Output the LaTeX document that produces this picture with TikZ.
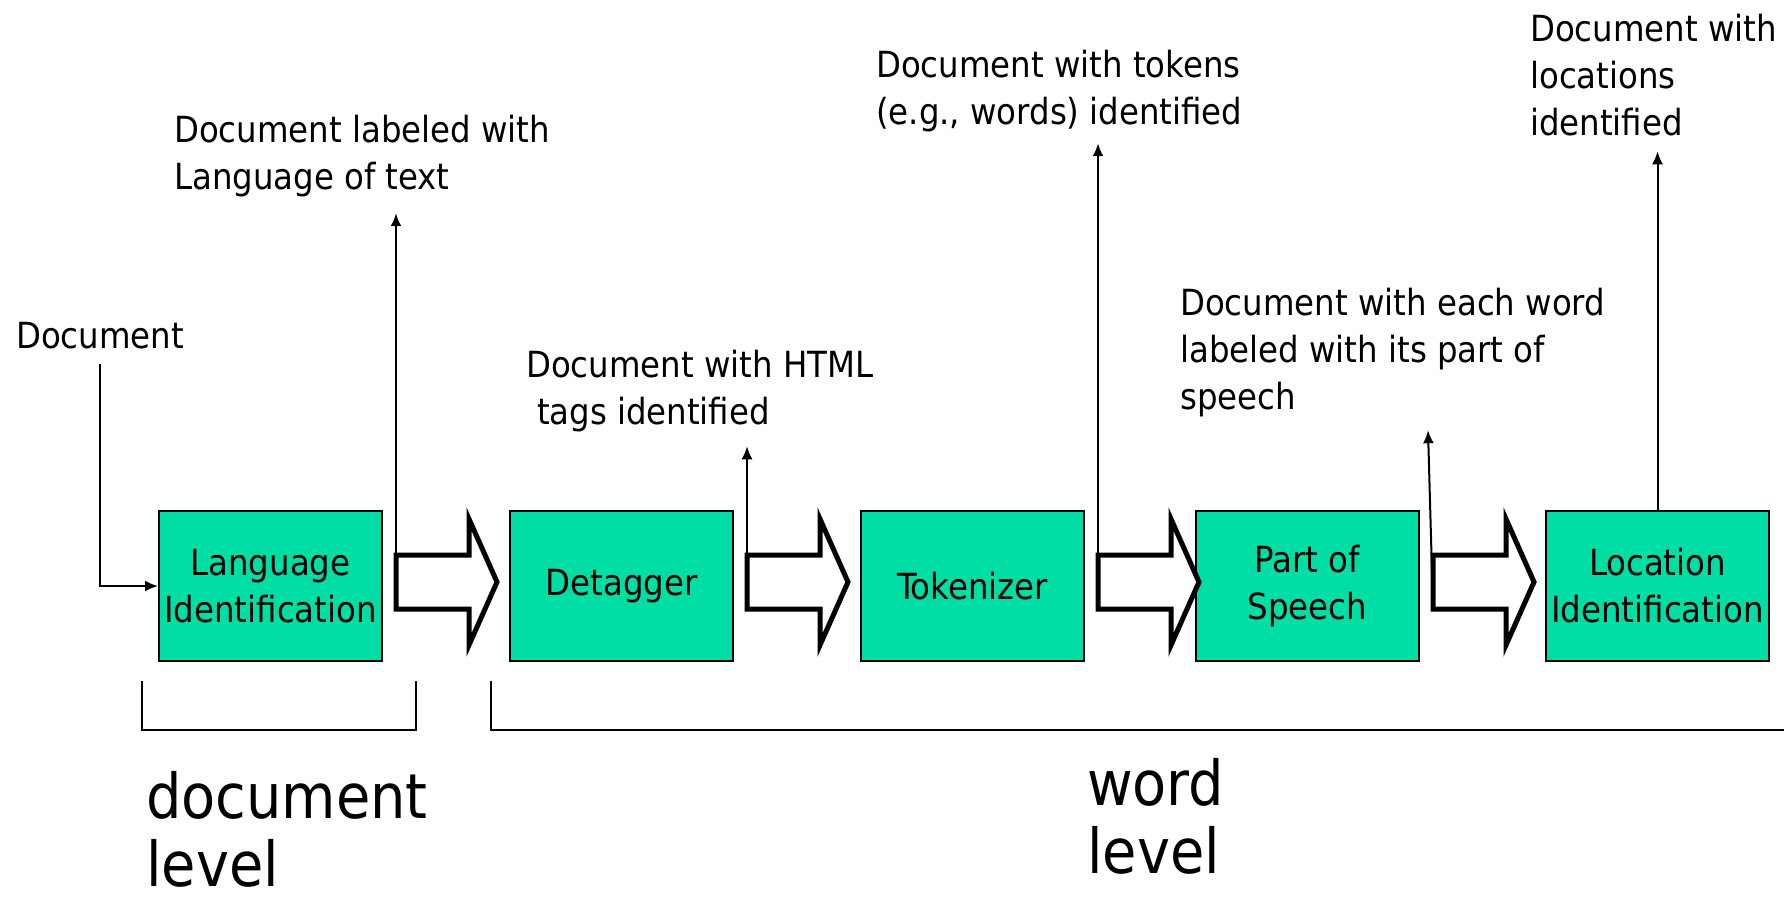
\documentclass[tikz,border=0pt]{standalone}
\usepackage{fontspec}
\setmainfont{DejaVu Sans Condensed}
\usepackage{xcolor}
\usetikzlibrary{arrows.meta, positioning, calc}
\definecolor{stagegreen}{RGB}{0,222,166}
\newcommand{\notefont}{\fontsize{36}{47}\selectfont}
\newcommand{\levelfont}{\fontsize{62}{68}\selectfont}
\tikzstyle{stage} = [rectangle, minimum width=223pt, minimum height=150pt, inner sep=0pt, align=center, draw=black, line width=2pt, fill=stagegreen, font=\notefont]
\tikzstyle{note} = [anchor=north west, inner sep=0pt, align=left, font=\notefont]
\tikzstyle{levelnote} = [anchor=north west, inner sep=0pt, align=left, font=\levelfont]
\tikzstyle{blockarrow} = [line width=5pt, line join=miter, draw=black, fill=white]
\tikzstyle{thinarrow} = [line width=2pt, -{Latex[length=13pt,width=11pt]}]
\tikzstyle{bracket} = [line width=2.5pt]
\begin{document}
\begin{tikzpicture}[x=1pt, y=-1pt, node distance=126pt]
\useasboundingbox (0,0) rectangle (1784,903);

% processing stages
\node (lid) [stage] at (270.5,586) {Language\\Identification};
\node (det) [stage, right=of lid] {Detagger};
\node (tok) [stage, right=of det] {Tokenizer};
\node (pos) [stage, right=110pt of tok] {Part of\\Speech};
\node (loc) [stage, right=125pt of pos] {Location\\Identification};

% fat arrows between the stages
\foreach \a/\i in {lid/1, det/2, tok/3, pos/4} {
  \draw [blockarrow] ($(\a.east)+(13,-31)$) -- ++(73,0) -- ++(0,-36) -- ++(28,63)
    -- ++(-28,63) -- ++(0,-36) -- ++(-73,0) -- cycle;
  \coordinate (tail\i) at ($(\a.east)+(13,23)$);
}

% what comes out of each stage
\node (doc) [note] at (16,322) {Document};
\node (outlid) [note] at (174,115) {Document labeled with\\Language of text};
\node (outdet) [note] at (526,350) {Document with HTML\\\hspace*{0.3em}tags identified};
\node (outtok) [note] at (876,50) {Document with tokens\\(e.g., words) identified};
\node (outpos) [note] at (1180,288) {Document with each word\\labeled with its part of\\speech};
\node (outloc) [note] at (1530,14) {Document with\\locations\\identified};

\draw [thinarrow] ($(doc.south)+(0,15)$) |- (lid.west);
\draw [thinarrow] (tail1) -- ($(tail1 |- outlid.south)+(0,16)$);
\draw [thinarrow] (tail2) -- ($(tail2 |- outdet.south)+(0,14)$);
\draw [thinarrow] (tail3) -- ($(tail3 |- outtok.south)+(0,11)$);
\draw [thinarrow] (tail4) -- ($(tail4 |- outpos.south)+(-5,13)$);
\draw [thinarrow] (loc.north) -- ($(loc.north |- outloc.south)+(0,15)$);

% levels
\draw [bracket] ($(lid.south west)+(-16,19)$) -- ++(0,49) -- ($(lid.south east)+(33,68)$) -- ++(0,-49);
\draw [bracket] ($(det.south west)+(-18,19)$) -- ++(0,49) -- ++(1300,0);
\node (doclevel) [levelnote] at (146,771) {document\\level};
\node (wordlevel) [levelnote] at (1087,758) {word\\level};
\end{tikzpicture}
\end{document}
